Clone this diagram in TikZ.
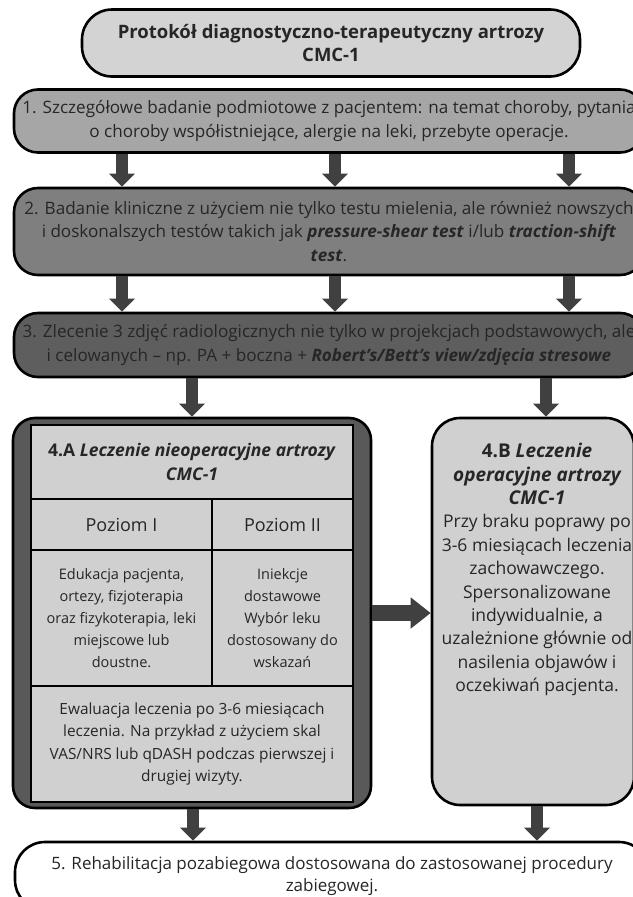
\documentclass[tikz,border=0pt]{standalone}
\usepackage{fontspec}
\setmainfont{Open Sans}
\usetikzlibrary{arrows.meta}
\definecolor{gT}{HTML}{D3D3D3}
\definecolor{gOne}{HTML}{A6A6A6}
\definecolor{gTwo}{HTML}{7F7F7F}
\definecolor{gThree}{HTML}{5E5E5E}
\definecolor{gA}{HTML}{595959}
\definecolor{gL}{HTML}{D0D0D0}
\definecolor{arrc}{HTML}{404040}
\definecolor{txt}{HTML}{262626}
\newcommand{\bibig}[1]{{\fontsize{19}{23.4}\selectfont\bfseries\itshape #1}}
\tikzset{
  box/.style={draw=black, line width=2.6pt, rounded corners=24pt, align=center, inner sep=0pt, text=txt, font=\fontsize{17.1}{23.5}\selectfont},
  cell/.style={draw=black, line width=2.6pt, fill=gL, align=center, inner sep=0pt, text=txt, font=\fontsize{14.5}{22}\selectfont},
  varr/.style={color=arrc, line width=12pt, -{Triangle[width=25pt,length=13pt]}},
  harr/.style={color=arrc, line width=16pt, -{Triangle[width=30pt,length=20pt]}},
}
\begin{document}
\begin{tikzpicture}[x=1pt,y=-1pt]
\useasboundingbox (0,0) rectangle (632,897);
% coordinates for connector columns
\coordinate (xa) at (122,0);
\coordinate (xb) at (335,0);
\coordinate (xc) at (569,0);
\coordinate (xd) at (192,0);
\coordinate (xe) at (546,0);
\coordinate (xf) at (193,0);
\coordinate (xg) at (537,0);
\coordinate (yh) at (0,613);

\node[box, fill=gT, rounded corners=30pt, minimum width=498pt, minimum height=67pt, font=\fontsize{18.5}{23}\selectfont\bfseries] (t) at (331,43)
  {Protokół diagnostyczno-terapeutyczny artrozy\\CMC-1};

\node[box, fill=gOne, minimum width=630pt, minimum height=63pt] (b1) at (329,121)
  {1. Szczegółowe badanie podmiotowe z pacjentem: na temat choroby, pytania\\o choroby współistniejące, alergie na leki, przebyte operacje.};

\node[box, fill=gTwo, minimum width=630pt, minimum height=87pt] (b2) at (329,231.5)
  {2. Badanie kliniczne z użyciem nie tylko testu mielenia, ale również nowszych\\i doskonalszych testów takich jak \textbf{\textit{pressure-shear test}} i/lub \textbf{\textit{traction-shift}}\\\textbf{\textit{test}}.};

\node[box, fill=gThree, minimum width=630pt, minimum height=64pt] (b3) at (329,345)
  {3. Zlecenie 3 zdjęć radiologicznych nie tylko w projekcjach podstawowych, ale\\i celowanych – np. PA + boczna + \textbf{\textit{Robert’s/Bett’s view/zdjęcia stresowe}}};

% 4.A
\node[box, fill=gA, rounded corners=22pt, minimum width=358pt, minimum height=390pt] (a4) at (192,613) {};
\node[cell, minimum width=322pt, minimum height=74pt, font=\fontsize{17.5}{24}\selectfont] (c0) at (192,462)
  {\textbf{4.A \textit{Leczenie nieoperacyjne artrozy}}\\\textbf{\textit{CMC-1}}};
\node[cell, minimum width=181pt, minimum height=51pt, font=\fontsize{18}{22}\selectfont] (p1) at (121.5,524.5) {Poziom I};
\node[cell, minimum width=141pt, minimum height=51pt, font=\fontsize{18}{22}\selectfont] (p2) at (282.5,524.5) {Poziom II};
\node[cell, minimum width=181pt, minimum height=136pt] (e1) at (121.5,618)
  {Edukacja pacjenta,\\ortezy, fizjoterapia\\oraz fizykoterapia, leki\\miejscowe lub\\doustne.};
\node[cell, minimum width=141pt, minimum height=136pt] (e2) at (282.5,618)
  {Iniekcje\\dostawowe\\Wybór leku\\dostosowany do\\wskazań};
\node[cell, minimum width=322pt, minimum height=116pt, font=\fontsize{15.4}{22.5}\selectfont] (ev) at (192,744)
  {Ewaluacja leczenia po 3-6 miesiącach\\leczenia. Na przykład z użyciem skal\\VAS/NRS lub qDASH podczas pierwszej i\\drugiej wizyty.};

% 4.B
\node[box, fill=gL, rounded corners=28pt, minimum width=202pt, minimum height=387pt] (b4) at (533,611.5) {};
\node[align=center, inner sep=0pt, text=txt, font=\fontsize{17.5}{23.4}\selectfont] (b4t) at (537,569.5)
  {\bibig{\upshape 4.B \itshape Leczenie}\\\bibig{operacyjne artrozy}\\\bibig{CMC-1}\\Przy braku poprawy po\\3-6 miesiącach leczenia\\zachowawczego.\\Spersonalizowane\\indywidualnie, a\\uzależnione głównie od\\nasilenia objawów i\\oczekiwań pacjenta.};

% 5
\node[box, fill=white, rounded corners=30pt, minimum width=634pt, minimum height=68pt, font=\fontsize{17}{22.5}\selectfont] (b5) at (332,876)
  {5. Rehabilitacja pozabiegowa dostosowana do zastosowanej procedury\\zabiegowej.};

% connectors
\foreach \c in {xa,xb,xc}{
  \draw[varr] (b1.south -| \c) -- (b2.north -| \c);
  \draw[varr] (b2.south -| \c) -- (b3.north -| \c);
}
\draw[varr] (b3.south -| xd) -- (a4.north -| xd);
\draw[varr] (b3.south -| xe) -- (b4.north -| xe);
\draw[harr] (a4.east |- yh) -- (b4.west |- yh);
\draw[varr] (a4.south -| xf) -- (b5.north -| xf);
\draw[varr] (b4.south -| xg) -- (b5.north -| xg);
\end{tikzpicture}
\end{document}
